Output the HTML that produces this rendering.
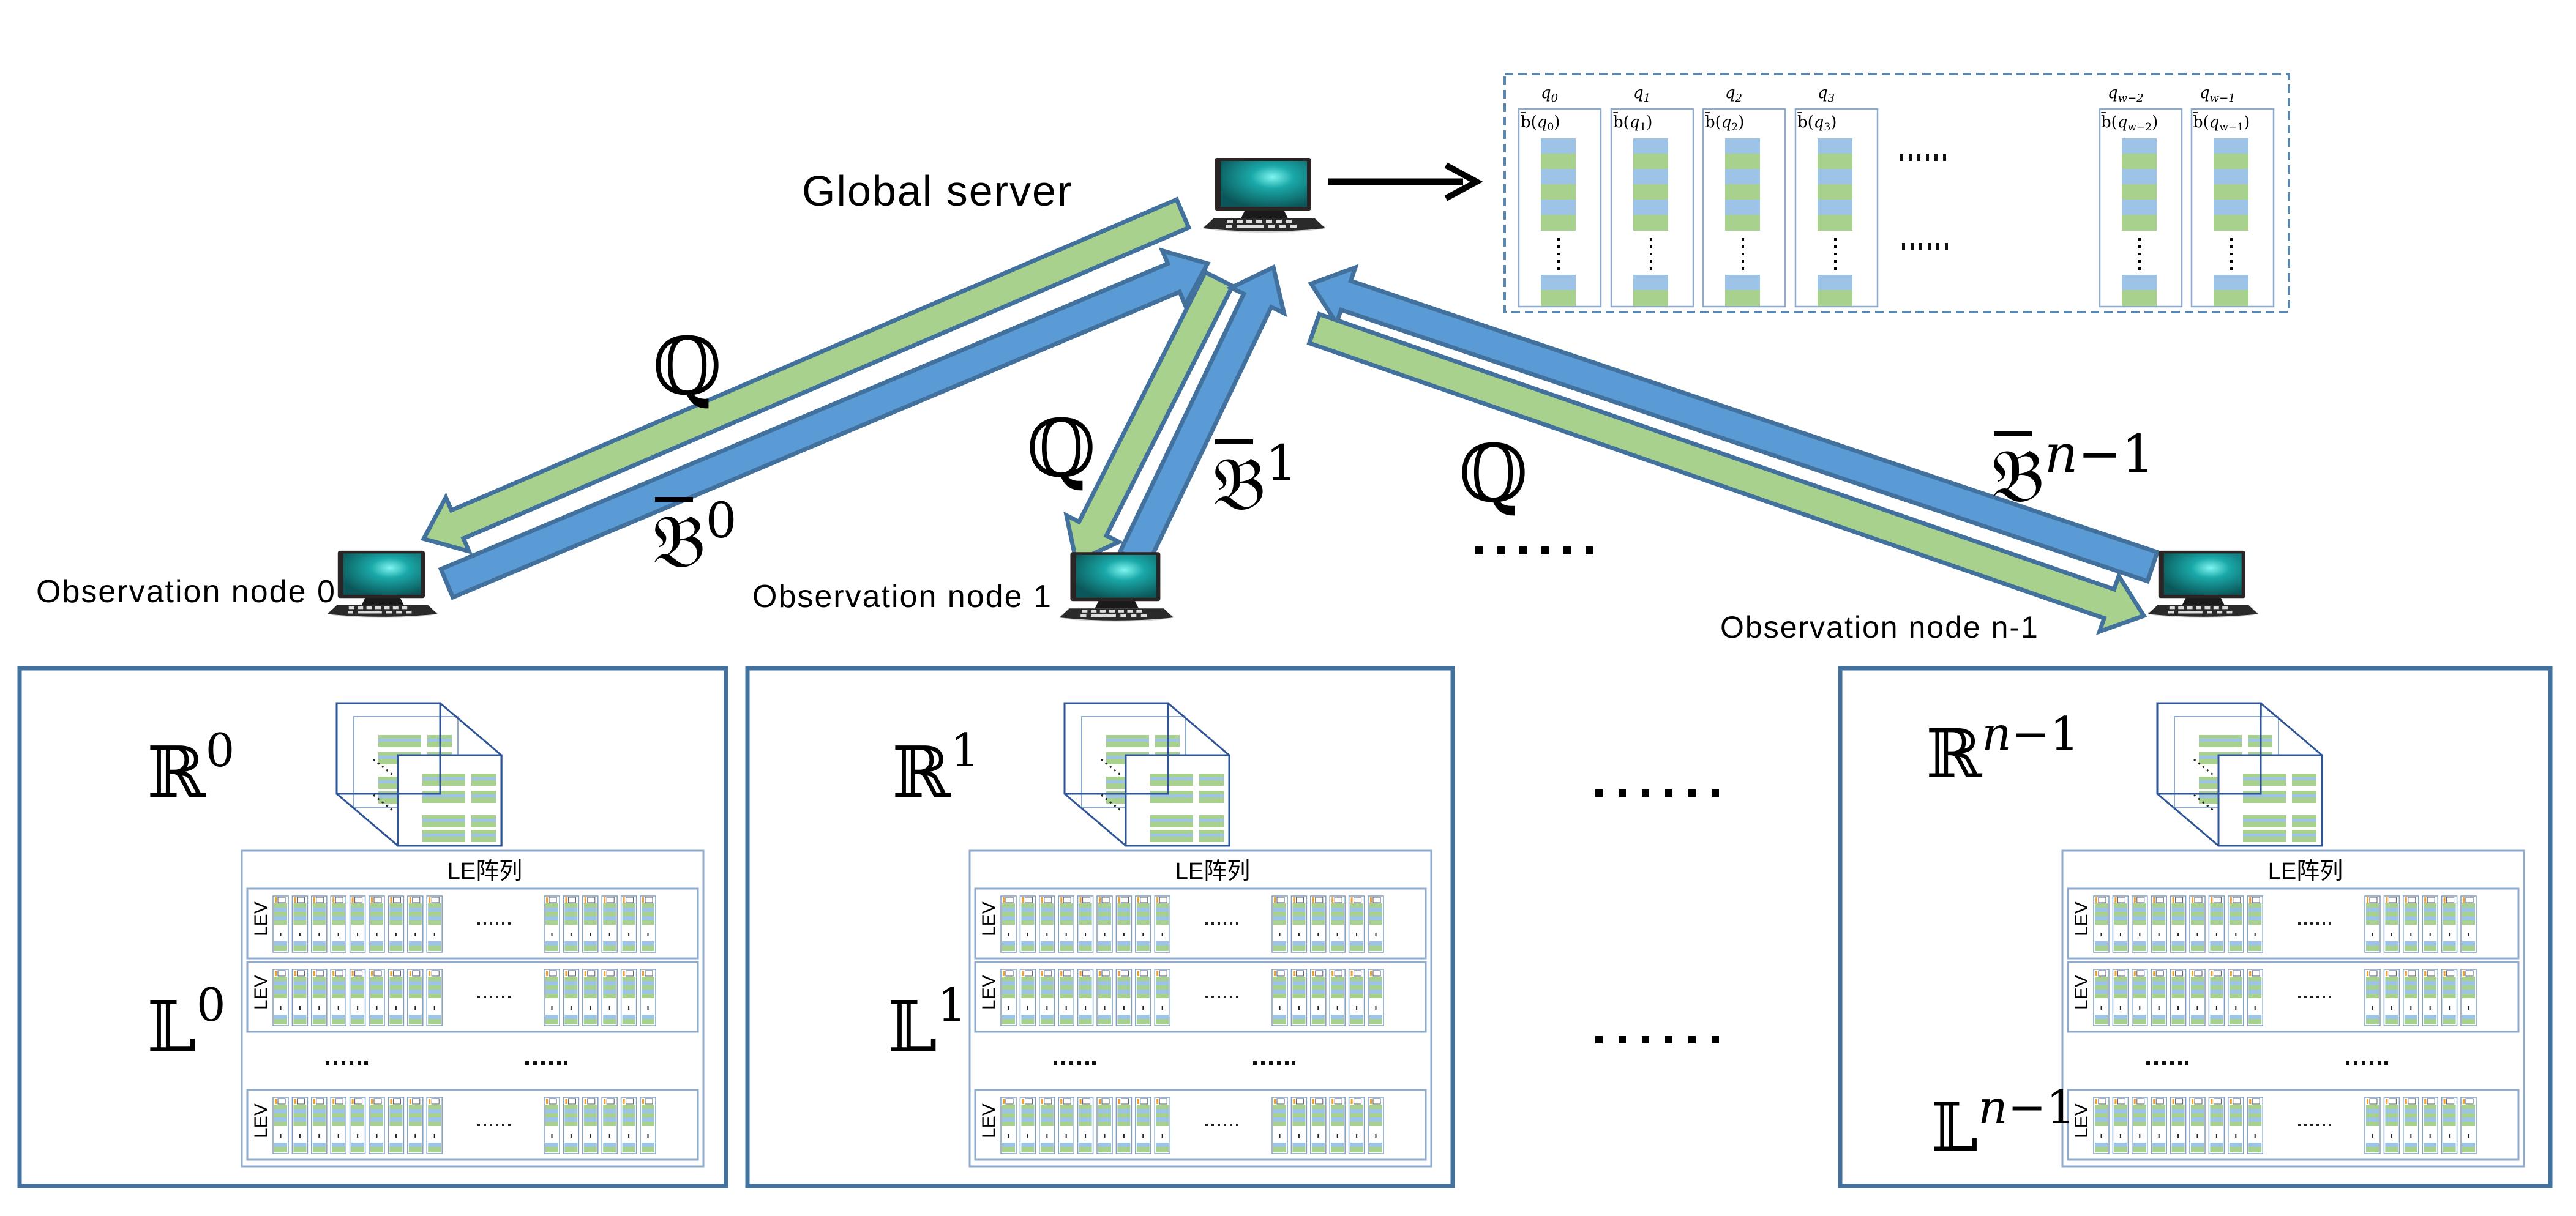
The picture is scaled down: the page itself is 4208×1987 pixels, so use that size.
<!DOCTYPE html>
<html><head><meta charset="utf-8">
<style>
html,body{margin:0;padding:0;background:#fff;}
svg{display:block;}
.m{font-family:"DejaVu Serif","DejaVu Sans",serif;fill:#000;}
.s{font-family:"Liberation Sans",sans-serif;fill:#000;}
</style></head><body>
<svg width="4208" height="1987" viewBox="0 0 4208 1987" xmlns="http://www.w3.org/2000/svg">
<defs>
<radialGradient id="scr" cx="0.6" cy="0.35" r="0.7">
<stop offset="0" stop-color="#7ff5f0"/><stop offset="0.35" stop-color="#1aa8a8"/><stop offset="1" stop-color="#0b5658"/>
</radialGradient>
<g id="pc">
<ellipse cx="103" cy="124" rx="100" ry="9" fill="#bbb" opacity="0.6"/>
<path d="M20,110 L186,110 L203,126 Q103,136 3,126 Z" fill="#2a2a2a"/>
<g fill="#ddd"><rect x="42" y="112" width="10" height="5"/><rect x="58" y="112" width="10" height="5"/><rect x="74" y="112" width="10" height="5"/><rect x="90" y="112" width="10" height="5"/><rect x="106" y="112" width="10" height="5"/><rect x="122" y="112" width="10" height="5"/><rect x="138" y="112" width="10" height="5"/><rect x="40" y="120" width="10" height="5"/><rect x="58" y="120" width="44" height="5"/><rect x="110" y="120" width="10" height="5"/><rect x="128" y="120" width="10" height="5"/><rect x="146" y="120" width="10" height="5"/></g>
<path d="M72,96 L135,96 L142,110 L65,110 Z" fill="#1a1a1a"/>
<rect x="22" y="11" width="158" height="86" rx="4" fill="#2b2424"/>
<rect x="32" y="16" width="141" height="75" fill="url(#scr)"/>
</g>
<g id="lec">
<rect x="0" y="0" width="25" height="92" fill="#fff" stroke="#7f9fbf" stroke-width="1.5"/>
<rect x="3" y="2" width="3" height="9" fill="#f0a030"/><rect x="8" y="2" width="12" height="9" fill="none" stroke="#557" stroke-width="1"/>
<rect x="2" y="12" width="21" height="7" fill="#a9d18e"/><rect x="2" y="19" width="21" height="7" fill="#9dc3e6"/>
<rect x="2" y="26" width="21" height="7" fill="#a9d18e"/><rect x="2" y="33" width="21" height="7" fill="#9dc3e6"/>
<rect x="2" y="40" width="21" height="7" fill="#a9d18e"/>
<rect x="11.5" y="60" width="2" height="6" fill="#222"/>
<rect x="2" y="74" width="21" height="7" fill="#9dc3e6"/><rect x="2" y="81" width="21" height="9" fill="#a9d18e"/>
</g>
<g id="ler">
<rect x="9" y="0" width="736" height="114" fill="#fff" stroke="#8eaacc" stroke-width="3"/>
<use href="#lec" x="51" y="12"/><use href="#lec" x="82.4" y="12"/><use href="#lec" x="113.8" y="12"/><use href="#lec" x="145.2" y="12"/><use href="#lec" x="176.6" y="12"/><use href="#lec" x="208" y="12"/><use href="#lec" x="239.4" y="12"/><use href="#lec" x="270.8" y="12"/><use href="#lec" x="302.2" y="12"/>
<use href="#lec" x="494" y="12"/><use href="#lec" x="525.4" y="12"/><use href="#lec" x="556.8" y="12"/><use href="#lec" x="588.2" y="12"/><use href="#lec" x="619.6" y="12"/><use href="#lec" x="651" y="12"/>
<g fill="#222"><rect x="385" y="55" width="4" height="4"/><rect x="395" y="55" width="4" height="4"/><rect x="405" y="55" width="4" height="4"/><rect x="415" y="55" width="4" height="4"/><rect x="425" y="55" width="4" height="4"/><rect x="435" y="55" width="4" height="4"/></g>
</g>
<g id="lea">
<rect x="0" y="0" width="754" height="516" fill="#fff" stroke="#8eaacc" stroke-width="3"/>
<use href="#ler" x="0" y="62"/><use href="#ler" x="0" y="182"/><use href="#ler" x="0" y="391"/>
<g fill="#111"><rect x="137" y="344" width="6" height="6"/><rect x="150" y="344" width="6" height="6"/><rect x="163" y="344" width="6" height="6"/><rect x="176" y="344" width="6" height="6"/><rect x="189" y="344" width="6" height="6"/><rect x="200" y="344" width="6" height="6"/>
<rect x="463" y="344" width="6" height="6"/><rect x="476" y="344" width="6" height="6"/><rect x="489" y="344" width="6" height="6"/><rect x="502" y="344" width="6" height="6"/><rect x="515" y="344" width="6" height="6"/><rect x="526" y="344" width="6" height="6"/></g>
</g>
<g id="pan">
<rect x="0" y="0" width="170" height="148" fill="#fff" stroke="#8eaacc" stroke-width="2"/>
<g fill="#a9d18e"><rect x="40" y="30" width="70" height="20"/><rect x="120" y="30" width="40" height="20"/><rect x="40" y="58" width="70" height="20"/><rect x="120" y="58" width="40" height="20"/><rect x="40" y="98" width="70" height="20"/><rect x="120" y="98" width="40" height="20"/><rect x="40" y="122" width="70" height="20"/><rect x="120" y="122" width="40" height="20"/></g>
<g fill="#9dc3e6"><rect x="40" y="36" width="70" height="5"/><rect x="120" y="36" width="40" height="5"/><rect x="40" y="64" width="70" height="5"/><rect x="120" y="64" width="40" height="5"/><rect x="40" y="104" width="70" height="5"/><rect x="120" y="104" width="40" height="5"/><rect x="40" y="128" width="70" height="5"/><rect x="120" y="128" width="40" height="5"/></g>
</g>
<g id="cube">
<use href="#pan" x="0" y="0"/>
<use href="#pan" x="28" y="22" />
<use href="#pan" x="100" y="85"/>
<g fill="none" stroke="#2f5597" stroke-width="3">
<rect x="0" y="0" width="169" height="148"/>
<rect x="100" y="85" width="169" height="148"/>
<line x1="169" y1="0" x2="269" y2="85"/><line x1="0" y1="148" x2="100" y2="233"/>
</g>
<g stroke="#222" stroke-width="3" stroke-dasharray="3 6"><line x1="60" y1="92" x2="95" y2="120"/><line x1="60" y1="150" x2="95" y2="178"/></g>
</g>
</defs>

<use href="#pc" x="1962" y="247"/>
<line x1="2169" y1="297" x2="2390" y2="297" stroke="#000" stroke-width="11"/>
<path d="M2362,270 L2412,297 L2362,324" fill="none" stroke="#000" stroke-width="10"/>
<text class="s" x="1310" y="336" font-size="70" letter-spacing="2">Global server</text>

<rect x="2458" y="121" width="1281" height="389" fill="#fff" stroke="#5b86b0" stroke-width="4" stroke-dasharray="14 8"/>
<g id="col" transform="translate(2481,121)">
<rect x="0" y="57" width="134" height="323" fill="#fff" stroke="#8eaacc" stroke-width="2.5"/>
<rect x="36" y="105" width="57" height="25" fill="#9dc3e6"/><rect x="36" y="130" width="57" height="25" fill="#a9d18e"/>
<rect x="36" y="155" width="57" height="25" fill="#9dc3e6"/><rect x="36" y="180" width="57" height="25" fill="#a9d18e"/>
<rect x="36" y="205" width="57" height="25" fill="#9dc3e6"/><rect x="36" y="230" width="57" height="26" fill="#a9d18e"/>
<line x1="65" y1="268" x2="65" y2="326" stroke="#000" stroke-width="4" stroke-dasharray="4 8"/>
<rect x="36" y="328" width="57" height="25" fill="#9dc3e6"/><rect x="36" y="353" width="57" height="26" fill="#a9d18e"/>
</g>
<use href="#col" x="151" y="0"/><use href="#col" x="301" y="0"/><use href="#col" x="452" y="0"/><use href="#col" x="949" y="0"/><use href="#col" x="1099" y="0"/>
<g class="m" font-style="italic" font-size="26">
<text x="2517" y="160">q<tspan font-size="18" dy="6">0</tspan></text>
<text x="2668" y="160">q<tspan font-size="18" dy="6">1</tspan></text>
<text x="2818" y="160">q<tspan font-size="18" dy="6">2</tspan></text>
<text x="2969" y="160">q<tspan font-size="18" dy="6">3</tspan></text>
<text x="3443" y="160">q<tspan font-size="18" dy="6">w−2</tspan></text>
<text x="3593" y="160">q<tspan font-size="18" dy="6">w−1</tspan></text>
</g>
<g class="m" font-size="26">
<text x="2484" y="208">b̄(<tspan font-style="italic">q</tspan><tspan font-size="17" dy="5">0</tspan><tspan dy="-5">)</tspan></text>
<text x="2635" y="208">b̄(<tspan font-style="italic">q</tspan><tspan font-size="17" dy="5">1</tspan><tspan dy="-5">)</tspan></text>
<text x="2785" y="208">b̄(<tspan font-style="italic">q</tspan><tspan font-size="17" dy="5">2</tspan><tspan dy="-5">)</tspan></text>
<text x="2936" y="208">b̄(<tspan font-style="italic">q</tspan><tspan font-size="17" dy="5">3</tspan><tspan dy="-5">)</tspan></text>
<text x="3432" y="208">b̄(<tspan font-style="italic">q</tspan><tspan font-size="17" dy="5">w−2</tspan><tspan dy="-5">)</tspan></text>
<text x="3582" y="208">b̄(<tspan font-style="italic">q</tspan><tspan font-size="17" dy="5">w−1</tspan><tspan dy="-5">)</tspan></text>
</g>
<g fill="#111"><rect x="3104" y="252" width="5" height="11"/><rect x="3118" y="252" width="5" height="11"/><rect x="3132" y="252" width="5" height="11"/><rect x="3146" y="252" width="5" height="11"/><rect x="3160" y="252" width="5" height="11"/><rect x="3174" y="252" width="5" height="11"/>
<rect x="3107" y="397" width="5" height="11"/><rect x="3121" y="397" width="5" height="11"/><rect x="3135" y="397" width="5" height="11"/><rect x="3149" y="397" width="5" height="11"/><rect x="3163" y="397" width="5" height="11"/><rect x="3177" y="397" width="5" height="11"/></g>

<g stroke="#41719c" stroke-width="7" stroke-linejoin="miter">
<polygon transform="translate(1932,349) rotate(156.8)" points="0,-25 1289,-25 1289,-48 1349,0 1289,48 1289,25 0,25" fill="#a9d18e"/>
<polygon transform="translate(730,953) rotate(-22.8)" points="0,-25 1288,-25 1288,-48 1348,0 1288,48 1288,25 0,25" fill="#5b9bd5"/>
<polygon transform="translate(1991,456) rotate(116.8)" points="0,-25 457,-25 457,-48 517,0 457,48 457,25 0,25" fill="#a9d18e"/>
<polygon transform="translate(1852,913) rotate(-64.4)" points="0,-25 468,-25 468,-48 528,0 468,48 468,25 0,25" fill="#5b9bd5"/>
<polygon transform="translate(3516,926) rotate(-161.4)" points="0,-25 1390,-25 1390,-48 1450,0 1390,48 1390,25 0,25" fill="#5b9bd5"/>
<polygon transform="translate(2147,537) rotate(19.1)" points="0,-25 1374,-25 1374,-48 1434,0 1374,48 1374,25 0,25" fill="#a9d18e"/>
</g>

<use href="#pc" transform="translate(532,890) scale(0.9)"/>
<use href="#pc" transform="translate(1728,892) scale(0.93)"/>
<use href="#pc" transform="translate(3506,890) scale(0.9)"/>
<text class="s" x="59" y="984" font-size="52" letter-spacing="2">Observation node 0</text>
<text class="s" x="1229" y="992" font-size="52" letter-spacing="2">Observation node 1</text>
<text class="s" x="2810" y="1042" font-size="50" letter-spacing="2">Observation node n-1</text>

<g class="m">
<text x="1066" y="644" font-size="130">ℚ</text>
<text x="1066" y="926" font-size="120">𝔅<tspan font-size="80" dy="-48">0</tspan></text>
<rect x="1070" y="812" width="62" height="8"/>
<text x="1677" y="778" font-size="130">ℚ</text>
<text x="1981" y="832" font-size="120">𝔅<tspan font-size="80" dy="-48">1</tspan></text>
<rect x="1985" y="718" width="62" height="8"/>
<text x="2383" y="819" font-size="130">ℚ</text>
<text x="3253" y="819" font-size="120">𝔅<tspan font-size="85" dy="-48" font-style="italic">n</tspan><tspan font-size="85">−1</tspan></text>
<rect x="3257" y="705" width="62" height="8"/>
</g>
<g fill="#000">
<rect x="2410" y="893" width="12" height="12"/><rect x="2446" y="893" width="12" height="12"/><rect x="2482" y="893" width="12" height="12"/><rect x="2518" y="893" width="12" height="12"/><rect x="2554" y="893" width="12" height="12"/><rect x="2590" y="893" width="12" height="12"/>
<rect x="2606" y="1290" width="12" height="12"/><rect x="2644" y="1290" width="12" height="12"/><rect x="2682" y="1290" width="12" height="12"/><rect x="2720" y="1290" width="12" height="12"/><rect x="2758" y="1290" width="12" height="12"/><rect x="2796" y="1290" width="12" height="12"/>
<rect x="2606" y="1693" width="12" height="12"/><rect x="2644" y="1693" width="12" height="12"/><rect x="2682" y="1693" width="12" height="12"/><rect x="2720" y="1693" width="12" height="12"/><rect x="2758" y="1693" width="12" height="12"/><rect x="2796" y="1693" width="12" height="12"/>
</g>

<g fill="none" stroke="#41719c" stroke-width="7">
<rect x="32" y="1092" width="1154" height="846"/>
<rect x="1221" y="1092" width="1152" height="846"/>
<rect x="3006" y="1092" width="1160" height="846"/>
</g>
<use href="#cube" x="550" y="1149"/>
<use href="#cube" x="1739" y="1149"/>
<use href="#cube" x="3524" y="1149"/>
<use href="#lea" x="395" y="1390"/>
<use href="#lea" x="1584" y="1390"/>
<use href="#lea" x="3369" y="1390"/>
<g class="s" font-size="38" text-anchor="middle">
<text x="792" y="1436" font-family="Liberation Sans,'Noto Sans CJK SC',sans-serif">LE阵列</text>
<text x="1981" y="1436" font-family="Liberation Sans,'Noto Sans CJK SC',sans-serif">LE阵列</text>
<text x="3766" y="1436" font-family="Liberation Sans,'Noto Sans CJK SC',sans-serif">LE阵列</text>
</g>
<g class="s" font-size="30">
<text transform="translate(436,1530) rotate(-90)">LEV</text><text transform="translate(436,1650) rotate(-90)">LEV</text><text transform="translate(436,1860) rotate(-90)">LEV</text>
<text transform="translate(1625,1530) rotate(-90)">LEV</text><text transform="translate(1625,1650) rotate(-90)">LEV</text><text transform="translate(1625,1860) rotate(-90)">LEV</text>
<text transform="translate(3410,1530) rotate(-90)">LEV</text><text transform="translate(3410,1650) rotate(-90)">LEV</text><text transform="translate(3410,1860) rotate(-90)">LEV</text>
</g>
<g class="m">
<text x="240" y="1302" font-size="115">ℝ<tspan font-size="75" dy="-50">0</tspan></text>
<text x="240" y="1718" font-size="115">𝕃<tspan font-size="75" dy="-50">0</tspan></text>
<text x="1457" y="1302" font-size="115">ℝ<tspan font-size="75" dy="-50">1</tspan></text>
<text x="1450" y="1718" font-size="115">𝕃<tspan font-size="75" dy="-50">1</tspan></text>
<text x="3146" y="1270" font-size="110">ℝ<tspan font-size="75" dy="-45" font-style="italic">n</tspan><tspan font-size="75">−1</tspan></text>
<text x="3154" y="1880" font-size="110">𝕃<tspan font-size="75" dy="-45" font-style="italic">n</tspan><tspan font-size="75">−1</tspan></text>
</g>
</svg>
</body></html>
